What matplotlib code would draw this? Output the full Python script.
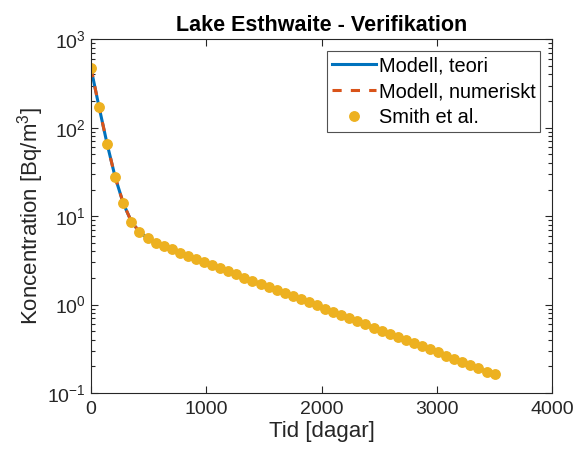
import matplotlib
matplotlib.use("Agg")
import matplotlib.pyplot as plt
from matplotlib.ticker import LogLocator, FixedLocator

plt.rcParams['font.family'] = ['Liberation Sans', 'DejaVu Sans']
plt.rcParams['mathtext.fontset'] = 'custom'
plt.rcParams['mathtext.rm'] = 'Liberation Sans'
plt.rcParams['mathtext.it'] = 'Liberation Sans:italic'
plt.rcParams['mathtext.bf'] = 'Liberation Sans:bold'

# Data (days, Bq/m^3)
tid = [70 * i for i in range(51)]
smith = [470, 171, 65.4, 27.5, 13.95, 8.69, 6.64, 5.65, 5.00, 4.59,
         4.21, 3.85, 3.56, 3.27, 3.03, 2.80, 2.57, 2.38, 2.20, 2.01,
         1.86, 1.72, 1.59, 1.46, 1.35, 1.24, 1.146, 1.059, 0.979, 0.896,
         0.829, 0.761, 0.698, 0.646, 0.597, 0.547, 0.506, 0.468, 0.429, 0.396,
         0.366, 0.336, 0.311, 0.288, 0.264, 0.244, 0.223, 0.207, 0.190, 0.175,
         0.162]
modell_teori = smith
modell_numeriskt = smith

title = "Lake Esthwaite - Verifikation"
xlabel = "Tid [dagar]"
ylabel = "Koncentration [Bq/m$^3$]"
labels = ["Modell, teori", "Modell, numeriskt", "Smith et al."]

fig = plt.figure(figsize=(5.74, 4.54), dpi=100)
ax = fig.add_axes([91/574, 1 - 393/454, (552.3 - 91)/574, (393 - 39.3)/454])

ax.plot(tid, modell_teori, color='#0072BD', lw=2.2, label=labels[0])
ax.plot(tid, modell_numeriskt, color='#D95319', lw=2.2, ls=(0, (3, 3)), label=labels[1])
ax.plot(tid, smith, ls='none', marker='o', ms=6.8, color='#EDB120',
        mec='#EDB120', label=labels[2])

ax.set_yscale('log')
ax.set_xlim(0, 4000)
ax.set_ylim(0.1, 1000)
ax.xaxis.set_major_locator(FixedLocator([0, 1000, 2000, 3000, 4000]))
ax.yaxis.set_major_locator(LogLocator(base=10, numticks=10))
ax.yaxis.set_minor_locator(LogLocator(base=10, subs=range(2, 10), numticks=20))

tc = '#262626'
for s in ax.spines.values():
    s.set_color(tc)
    s.set_linewidth(0.8)
ax.tick_params(which='both', direction='in', top=True, right=True, colors=tc,
               labelsize=14, labelcolor=tc)
ax.tick_params(which='major', length=5, width=0.8)
ax.tick_params(which='minor', length=3, width=0.8)
ax.tick_params(axis='x', which='minor', top=False, bottom=False)
ax.tick_params(axis='x', pad=6)

ax.set_title(title, fontsize=15.5, fontweight='bold', color='black', pad=6)
ax.set_xlabel(xlabel, fontsize=16, color=tc, labelpad=2)
ax.set_ylabel(ylabel, fontsize=16, color=tc, labelpad=1)

leg = ax.legend(loc='upper right', fontsize=14.4, frameon=True, fancybox=False,
                edgecolor=tc, handlelength=2.2, handletextpad=0.15,
                borderpad=0.25, labelspacing=0.35, borderaxespad=0.6)
leg.get_frame().set_linewidth(0.8)

fig.savefig('out.png', dpi=100)
